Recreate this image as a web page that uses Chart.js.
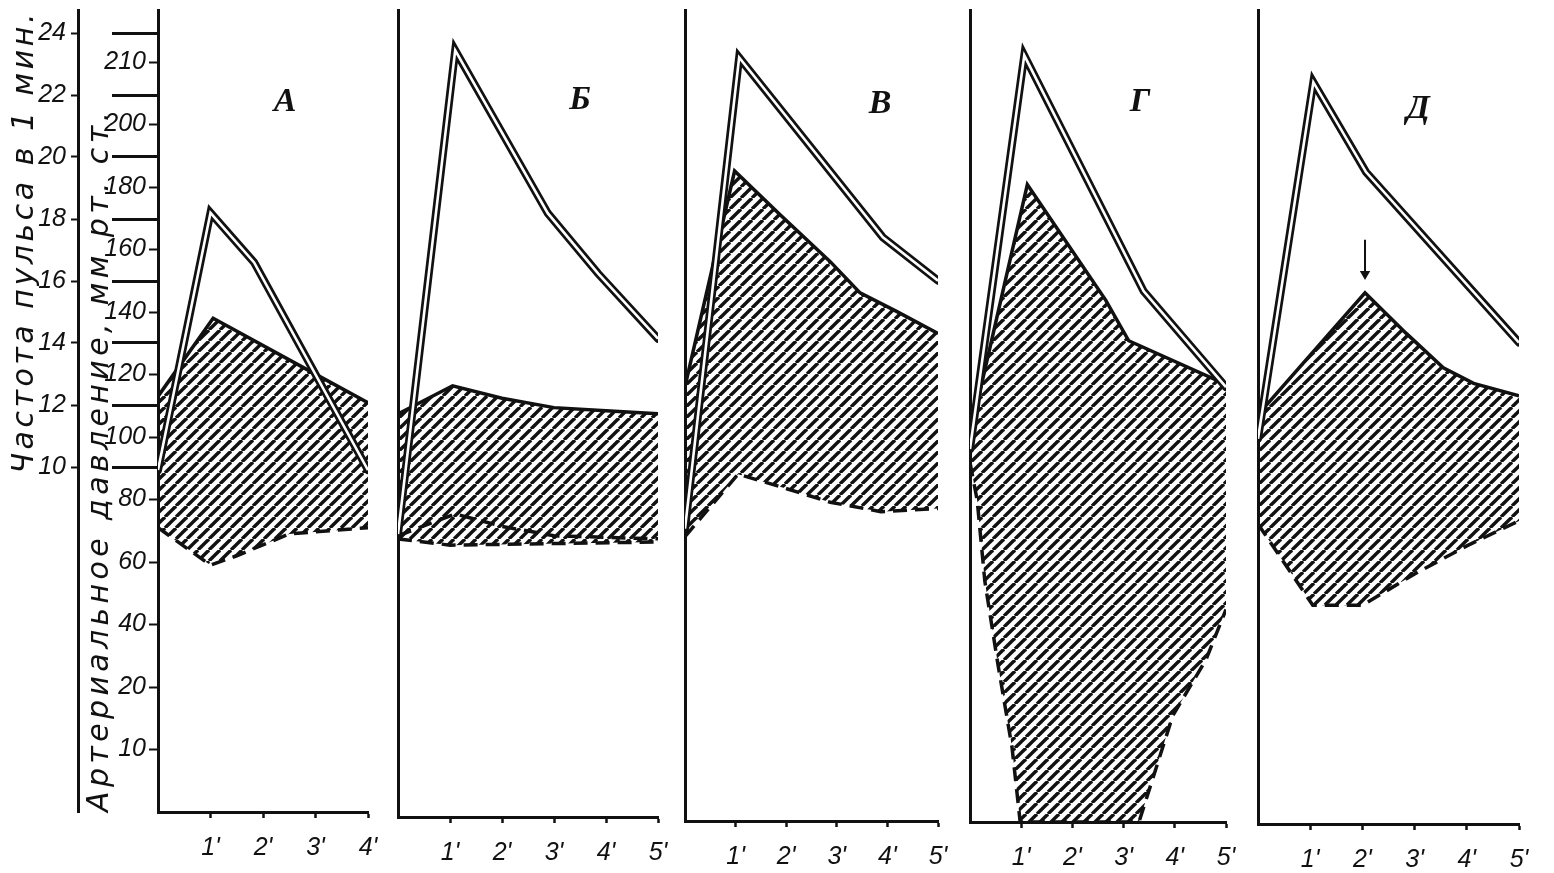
<!DOCTYPE html>
<html lang="ru">
<head>
<meta charset="utf-8">
<title>Пульс и артериальное давление</title>
<script src="https://cdn.jsdelivr.net/npm/chart.js@4.4.1/dist/chart.umd.min.js"></script>
<style>
  html, body { margin: 0; padding: 0; background: #fff; }
  #wrap { position: relative; width: 1554px; height: 873px; overflow: hidden; background: #fff; }
  #wrap canvas { position: absolute; top: 0; }
  .letter {
    position: absolute;
    font: italic bold 34px 'Liberation Serif', serif;
    color: #111;
    transform: translate(-50%, -50%);
  }
</style>
</head>
<body>
<div id="wrap"></div>
<script>
// printed pressure labels (equally spaced on the axis, as in the original)
const PRESSURE_TICKS = [10, 20, 40, 60, 80, 100, 120, 140, 160, 180, 200, 210];
const PULSE_TICKS = [10, 12, 14, 16, 18, 20, 22, 24];
const PANEL_NAMES = ['А', 'Б', 'В', 'Г', 'Д'];
const PANEL_MINUTES = [4, 5, 5, 5, 5];

// [minute, value] - pulse in tens per minute, pressure in mm Hg
const A_PULSE = [[0, 9.9], [1, 18.2], [1.83, 16.6], [4, 9.9]];
const A_SYS = [[0, 113], [1.05, 138], [3.12, 119], [4, 111]];
const A_DIA = [[0, 71], [1, 59], [1.5, 62], [2.5, 69], [4, 71]];

const B_PULSE = [[0, 8.0], [1.1, 23.6], [2.88, 18.35], [3.85, 16.4], [5, 14.3]];
const B_SYS = [[0, 109], [1.05, 118], [2, 114], [3, 111], [4, 110], [5, 109]];
const B_DIA = [[0, 69], [1, 67], [5, 68]];
const B_DIA2 = [[0, 70], [1.1, 77], [2, 73], [3, 70], [5, 69]];

const V_PULSE = [[0, 8.3], [1.07, 23.5], [3.91, 17.7], [5, 16.3]];
const V_SYS = [[0, 119], [0.98, 188], [1.88, 174], [2.87, 159], [3.46, 149], [4.19, 143], [5, 136]];
const V_DIA = [[0, 71], [1.05, 91], [1.88, 87], [2.87, 82], [3.87, 79], [5, 80]];

const G_PULSE = [[0, 10.9], [1.06, 23.6], [3.39, 16.0], [5, 12.9]];
const G_SYS = [[0, 104], [1.12, 184], [2.65, 147], [3.1, 134], [5, 120]];
const G_DIA = [[0, 95], [0.14, 83], [0.29, 57], [0.55, 30], [0.82, 12], [0.98, 0], [3.3, 0], [3.96, 17], [4.61, 32], [5, 48]];

const D_PULSE = [[0, 11.3], [1.06, 22.8], [2.07, 19.9], [5, 14.4]];
const D_SYS = [[0, 111], [2.05, 150], [2.84, 137], [3.55, 126], [4.13, 121], [5, 117]];
const D_DIA = [[0, 76], [1.05, 50], [2, 50], [2.5, 55], [3, 60], [4, 69], [5, 77]];
const D_ARROW = [[2.05, 167], [2.05, 156]];

// page geometry
const TOP = 10, BASE = 812, STEP = 62.5, PULSE_PX = 31, PULSE_REF_Y = 467, XH = 60;
const GEOM = [
  { x0: 158, x1: 368, off: 0 },
  { x0: 398, x1: 658, off: 5 },
  { x0: 685, x1: 938, off: 9 },
  { x0: 970, x1: 1226, off: 10 },
  { x0: 1258, x1: 1519, off: 12 }
];
const LETTER_POS = [[285, 100], [580, 98], [880, 102], [1140, 100], [1418, 107]];

const INK = '#111';
const NUM_FONT = { family: "'Liberation Sans Narrow', 'Liberation Sans', sans-serif", size: 25, style: 'italic' };
const TITLE_FONT = { family: "'DejaVu Sans', sans-serif", size: 30, style: 'italic' };

// map a printed pressure value onto the equally spaced label positions
function toIdx(v) {
  const t = [0].concat(PRESSURE_TICKS);
  for (let i = 0; i < t.length - 1; i++) {
    if (v <= t[i + 1]) return i + (v - t[i]) / (t[i + 1] - t[i]);
  }
  return t.length - 1 + (v - t[t.length - 1]) / 10;
}
const pts = arr => arr.map(([x, y]) => ({ x, y }));
const ptsP = arr => arr.map(([x, y]) => ({ x, y: toIdx(y) }));

function hatch(ctx) {
  const n = 11;
  const c = document.createElement('canvas');
  c.width = n; c.height = n;
  const g = c.getContext('2d');
  g.strokeStyle = INK;
  g.lineWidth = 3.4;
  for (let k = -1; k <= 1; k++) {
    g.beginPath();
    g.moveTo(k * n, n);
    g.lineTo(k * n + n, 0);
    g.stroke();
  }
  return ctx.createPattern(c, 'repeat');
}

// fixed axis sizes; spaced titles stretch the printed caption to its length
function fixW(w, titleLen) {
  return s => {
    s.width = w; s.paddingTop = 0; s.paddingBottom = 0;
    if (titleLen && !s._spaced) {
      s._spaced = true;
      const orig = s.drawTitle.bind(s);
      s.drawTitle = function () {
        const ctx = this.ctx, t = this.options.title;
        ctx.save();
        ctx.font = Chart.helpers.toFont(t.font).string;
        const w0 = ctx.measureText(t.text).width;
        ctx.letterSpacing = Math.max(0, (titleLen - w0) / (t.text.length - 1)).toFixed(2) + 'px';
        orig();
        ctx.restore();
      };
    }
  };
}
const fixH = h => s => { s.height = h; s.paddingLeft = 0; s.paddingRight = 0; };

function buildPanel(i, pulse, sys, dia, extra) {
  const g = GEOM[i];
  const first = i === 0;
  const padL = first ? 0 : 10, padR = 25;
  const left = first ? 0 : g.x0 - padL;
  const width = g.x1 - left + padR;
  const height = BASE + g.off + XH;
  const yMax = (BASE - TOP + g.off) / STEP;
  const pMin = 10 - (BASE - PULSE_REF_Y) / PULSE_PX;
  const pMax = 10 + (PULSE_REF_Y - TOP + g.off) / PULSE_PX;

  const canvas = document.createElement('canvas');
  canvas.width = width; canvas.height = height;
  canvas.style.left = left + 'px';
  canvas.style.width = width + 'px';
  canvas.style.height = height + 'px';
  document.getElementById('wrap').appendChild(canvas);
  const ctx = canvas.getContext('2d');

  const minutes = [];
  for (let m = 1; m <= PANEL_MINUTES[i]; m++) minutes.push(m);

  const datasets = [
    { data: pts(pulse), yAxisID: 'pulse', borderColor: '#fff', borderWidth: 2.6, order: 0 },
    { data: pts(pulse), yAxisID: 'pulse', borderColor: INK, borderWidth: 8, borderCapStyle: 'round', order: 1 },
    { data: ptsP(sys), yAxisID: 'y', borderColor: INK, borderWidth: 3.5, fill: '+1', backgroundColor: hatch(ctx), order: 2 },
    { data: ptsP(dia), yAxisID: 'y', borderColor: INK, borderWidth: 3.5, borderDash: [14, 8], order: 3 }
  ].concat(extra || []);

  const scales = {
    x: {
      type: 'linear', min: 0, max: PANEL_MINUTES[i],
      afterBuildTicks: s => { s.ticks = minutes.map(v => ({ value: v })); },
      ticks: { callback: v => v + "'", font: NUM_FONT, color: INK, padding: 15, autoSkip: false, maxRotation: 0 },
      grid: { drawOnChartArea: false, tickLength: 6, tickWidth: 2.5, color: INK },
      border: { color: INK, width: 3 },
      afterFit: fixH(XH)
    },
    y: {
      type: 'linear', position: 'left', min: 0, max: yMax, weight: 1,
      afterBuildTicks: s => { s.ticks = PRESSURE_TICKS.map((v, k) => ({ value: k + 1 })); },
      ticks: { display: first, callback: (v, k) => PRESSURE_TICKS[k], font: NUM_FONT, color: INK, padding: 3, autoSkip: false },
      grid: { drawOnChartArea: false, drawTicks: first, tickLength: 9, tickWidth: 2, color: INK },
      border: { color: INK, width: 3 },
      title: {
        display: first, text: 'Артериальное давление, мм рт. ст.', align: 'start', color: INK,
        font: TITLE_FONT, padding: { top: 4, bottom: 0 }
      },
      afterFit: fixW(first ? 80 : 0, first ? 700 : 0)
    },
    pulse: {
      type: 'linear', position: 'left', min: pMin, max: pMax, weight: 2, display: first,
      afterBuildTicks: s => { s.ticks = PULSE_TICKS.map(v => ({ value: v })); },
      ticks: { font: NUM_FONT, color: INK, padding: 5, autoSkip: false },
      grid: { drawOnChartArea: false, tickLength: 7, tickWidth: 2, color: INK },
      border: { color: INK, width: 3 },
      title: {
        display: true, text: 'Частота пульса в 1 мин.', align: 'end', color: INK,
        font: TITLE_FONT, padding: { top: 7, bottom: 0 }
      },
      afterFit: fixW(first ? 78 : 0, first ? 460 : 0)
    }
  };

  if (first) {
    // long marks beside the pressure axis at the pulse divisions
    scales.bars = {
      type: 'linear', position: 'left', min: pMin, max: pMax, weight: 0,
      afterBuildTicks: s => { s.ticks = PULSE_TICKS.map(v => ({ value: v })); },
      ticks: { display: false },
      grid: { drawOnChartArea: false, tickLength: 46, tickWidth: 3, color: INK },
      border: { display: false },
      afterFit: fixW(0)
    };
  }

  new Chart(ctx, {
    type: 'line',
    data: { datasets },
    options: {
      responsive: false,
      animation: false,
      devicePixelRatio: 1,
      events: [],
      layout: { padding: { top: TOP, right: padR, bottom: 0, left: padL }, autoPadding: false },
      elements: { point: { radius: 0 }, line: { tension: 0, fill: false } },
      plugins: {
        legend: { display: false },
        tooltip: { enabled: false },
        filler: { drawTime: 'beforeDatasetsDraw' }
      },
      scales
    }
  });

  const lab = document.createElement('div');
  lab.className = 'letter';
  lab.textContent = PANEL_NAMES[i];
  lab.style.left = LETTER_POS[i][0] + 'px';
  lab.style.top = LETTER_POS[i][1] + 'px';
  document.getElementById('wrap').appendChild(lab);
}

document.addEventListener('DOMContentLoaded', () => {
  const dashed = (data, order) => ({
    data: ptsP(data), yAxisID: 'y', borderColor: INK, borderWidth: 3.5, borderDash: [14, 8], order
  });

  buildPanel(0, A_PULSE, A_SYS, A_DIA);
  buildPanel(1, B_PULSE, B_SYS, B_DIA, [dashed(B_DIA2, 4)]);
  buildPanel(2, V_PULSE, V_SYS, V_DIA);
  buildPanel(3, G_PULSE, G_SYS, G_DIA);
  buildPanel(4, D_PULSE, D_SYS, D_DIA, [{
    data: ptsP(D_ARROW), yAxisID: 'y', borderColor: INK, borderWidth: 2,
    pointRadius: [0, 6], pointStyle: 'triangle', rotation: 180,
    pointBackgroundColor: INK, pointBorderWidth: 0, order: 5
  }]);
});
</script>
</body>
</html>
